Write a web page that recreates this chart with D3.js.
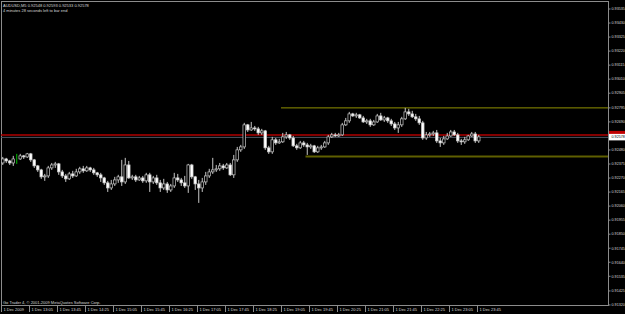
<!DOCTYPE html>
<html>
<head>
<meta charset="utf-8">
<script src="https://cdn.jsdelivr.net/npm/d3@7"></script>
<style>
    body { margin: 0; background: #000; }
    svg { display: block; }
    text { font-family: "Liberation Sans", Arial, sans-serif; }
</style>
</head>
<body>
<svg id="canvas" width="625" height="314"></svg>
<script>
// AUDUSD M5 candles, prices in points (1 point = 0.00001)
let open = [
    92383,92413,92398,92383,92413,92413,92436,92428,92451,92406,
    92361,92331,92279,92286,92346,92368,92376,92316,92286,92264,
    92301,92286,92316,92339,92324,92346,92331,92309,92294,92271,
    92234,92196,92226,92256,92279,92241,92368,92271,92279,92256,
    92271,92249,92294,92241,92271,92234,92196,92226,92181,92211,
    92271,92256,92234,92211,92368,92279,92226,92196,92241,92286,
    92316,92331,92339,92361,92346,92368,92294,92406,92481,92503,
    92668,92630,92645,92638,92608,92623,92496,92466,92556,92533,
    92541,92578,92593,92570,92511,92496,92533,92518,92503,92511,
    92466,92496,92503,92533,92578,92593,92585,92593,92668,92698,
    92750,92735,92743,92720,92690,92698,92668,92690,92735,92705,
    92720,92698,92675,92645,92668,92713,92765,92750,92728,92713,
    92683,92570,92593,92600,92608,92548,92533,92563,92585,92615,
    92593,92548,92541,92556,92585,92600,92548
]
let high = [
    92428,92421,92406,92436,92451,92451,92443,92458,92458,92413,
    92368,92339,92301,92361,92383,92391,92383,92331,92301,92316,
    92324,92339,92354,92361,92361,92354,92346,92316,92309,92279,
    92249,92256,92279,92294,92406,92421,92398,92294,92294,92286,
    92286,92309,92309,92286,92294,92256,92264,92241,92226,92309,
    92301,92271,92286,92376,92376,92286,92256,92271,92316,92339,
    92421,92368,92383,92376,92383,92383,92443,92503,92518,92683,
    92675,92690,92660,92653,92638,92630,92511,92578,92570,92563,
    92608,92615,92600,92585,92526,92548,92548,92533,92526,92518,
    92511,92518,92548,92593,92608,92608,92608,92683,92720,92765,
    92758,92758,92750,92735,92713,92713,92705,92750,92758,92735,
    92728,92713,92690,92690,92728,92795,92788,92773,92750,92735,
    92698,92615,92615,92623,92630,92570,92585,92608,92630,92630,
    92608,92563,92578,92593,92615,92615,92593
]
let low = [
    92368,92383,92368,92361,92376,92406,92413,92421,92391,92346,
    92316,92264,92249,92271,92331,92346,92294,92271,92241,92256,
    92271,92279,92301,92309,92316,92316,92294,92279,92241,92219,
    92166,92181,92211,92234,92211,92226,92264,92256,92241,92249,
    92234,92234,92166,92226,92219,92166,92181,92159,92166,92196,
    92241,92211,92196,92159,92264,92181,92084,92166,92219,92271,
    92301,92316,92324,92331,92339,92286,92271,92391,92466,92488,
    92615,92623,92623,92593,92593,92481,92451,92451,92518,92526,
    92533,92563,92556,92503,92481,92488,92503,92443,92488,92458,
    92458,92481,92496,92518,92570,92578,92578,92585,92660,92683,
    92728,92720,92713,92683,92675,92653,92660,92683,92698,92690,
    92683,92660,92630,92608,92653,92705,92735,92720,92698,92668,
    92556,92556,92578,92585,92533,92503,92518,92556,92578,92585,
    92533,92518,92526,92548,92578,92533,92533
]
let close = [
    92413,92398,92383,92413,92413,92436,92428,92451,92406,92361,
    92331,92279,92286,92346,92368,92376,92316,92286,92264,92301,
    92286,92316,92339,92324,92346,92331,92309,92294,92271,92234,
    92196,92226,92256,92279,92241,92368,92271,92279,92256,92271,
    92249,92294,92241,92271,92234,92196,92226,92181,92211,92271,
    92256,92234,92211,92368,92279,92226,92196,92241,92286,92316,
    92331,92339,92361,92346,92368,92294,92406,92481,92503,92668,
    92630,92645,92638,92608,92623,92496,92466,92556,92533,92541,
    92578,92593,92570,92511,92496,92533,92518,92503,92511,92466,
    92496,92503,92533,92578,92593,92585,92593,92668,92698,92750,
    92735,92743,92720,92690,92698,92668,92690,92735,92705,92720,
    92698,92675,92645,92668,92713,92765,92750,92728,92713,92683,
    92570,92593,92600,92608,92548,92533,92563,92585,92615,92593,
    92548,92541,92556,92585,92600,92548,92578
]

// price scale labels on the right
let priceTicks = [93535,93430,93325,93220,93115,93010,92905,92795,92690,92585,92480,
    92375,92270,92165,92060,91955,91850,91745,91640,91535,91425,91320]

// time labels, one every 8 bars
let timeLabels = ["1 Dec 2009","1 Dec 13:05","1 Dec 13:45","1 Dec 14:25","1 Dec 15:05",
    "1 Dec 15:45","1 Dec 16:25","1 Dec 17:05","1 Dec 17:45","1 Dec 18:25","1 Dec 19:05",
    "1 Dec 19:45","1 Dec 20:25","1 Dec 21:05","1 Dec 21:45","1 Dec 22:25","1 Dec 23:05","1 Dec 23:45"]
let labelEvery = 8

// horizontal objects: [price, first bar]
let hLines = [[92795, 80], [92432, 87]]
let redLevel = 92593

let symbolText = "AUDUSD,M5  0.92548 0.92593 0.92533 0.92578"
let timerText = "4 minutes 28 seconds left to bar end"
let copyText = "Go Trader 4, \u00a9 2001-2009 MetaQuotes Software Corp."

let canvas = d3.select("#canvas")
let plotL = 1, plotR = 608, plotT = 1, plotB = 305
let step = 3.5
let n = close.length

canvas.append("rect").attr("width", 625).attr("height", 314).attr("fill", "#000")

let x = d3.scaleBand()
    .domain(d3.range(n))
    .range([plotL, plotL + step * n])

let y = d3.scaleLinear()
    .domain([91320, 93535])
    .range([plotB, 9])

let fmt = (v) => (v / 1e5).toFixed(5)

//frame
canvas.append("rect")
    .attr("x", plotL + 0.5).attr("y", plotT + 0.5)
    .attr("width", plotR - plotL).attr("height", plotB - plotT)
    .attr("fill", "none").attr("stroke", "#8c8c8c")

//horizontal lines
canvas.append("line")
    .attr("x1", plotL).attr("x2", plotR)
    .attr("y1", y(redLevel)).attr("y2", y(redLevel))
    .attr("stroke", "#b00000").attr("stroke-width", 1.5)
canvas.append("line")
    .attr("x1", plotL).attr("x2", plotR)
    .attr("y1", y(close[n - 1]) + 0.5).attr("y2", y(close[n - 1]) + 0.5)
    .attr("stroke", "#4e5664")
canvas.selectAll(".level")
    .data(hLines)
    .join("line")
    .attr("x1", (d) => x(d[1])).attr("x2", plotR)
    .attr("y1", (d) => y(d[0])).attr("y2", (d) => y(d[0]))
    .attr("stroke", (d, i) => i == 0 ? "#8f8f00" : "#5f5f00")
    .attr("stroke-width", (d, i) => i == 0 ? 1 : 2)

//candles
let bars = canvas.selectAll(".bar")
    .data(d3.range(n))
    .join("g")
    .attr("transform", (i) => "translate(" + (x(i) + step / 2) + ",0)")

bars.append("line")
    .attr("y1", (i) => y(high[i])).attr("y2", (i) => y(low[i]))
    .attr("stroke", (i) => open[i] == close[i] ? "#00c000" : "#c8c8c8")

bars.filter((i) => open[i] != close[i])
    .append("rect")
    .attr("x", -1.3).attr("width", 2.6)
    .attr("y", (i) => y(Math.max(open[i], close[i])))
    .attr("height", (i) => Math.max(1, Math.abs(y(open[i]) - y(close[i]))))
    .attr("fill", (i) => close[i] < open[i] ? "#ffffff" : "#000")
    .attr("stroke", "#c8c8c8").attr("stroke-width", 0.7)

//price axis
let pt = canvas.selectAll(".ptick")
    .data(priceTicks)
    .join("g")
    .attr("transform", (d) => "translate(" + plotR + "," + y(d) + ")")
pt.append("line").attr("x1", 0).attr("x2", 2.5).attr("stroke", "#8c8c8c")
pt.append("text")
    .attr("x", 3.5).attr("dy", "0.35em")
    .attr("fill", "#d8d8d8").style("font-size", "3.7px")
    .text(fmt)

//red and bid price labels
canvas.append("rect")
    .attr("x", plotR + 1).attr("y", y(redLevel) - 4)
    .attr("width", 16).attr("height", 7).attr("fill", "#c00000")
canvas.append("rect")
    .attr("x", plotR + 1).attr("y", y(close[n - 1]) - 3)
    .attr("width", 16).attr("height", 6.5).attr("fill", "#fff")
canvas.append("text")
    .attr("x", plotR + 3.5).attr("y", y(close[n - 1])).attr("dy", "0.35em")
    .attr("fill", "#000").style("font-size", "3.7px")
    .text(fmt(close[n - 1]))

//time axis
let tt = canvas.selectAll(".ttick")
    .data(timeLabels)
    .join("g")
    .attr("transform", (d, k) => "translate(" + Math.round(x(k * labelEvery)) + "," + plotB + ")")
tt.append("line").attr("x1", 0.5).attr("x2", 0.5).attr("y1", 0).attr("y2", 7).attr("stroke", "#8c8c8c")
tt.append("text")
    .attr("x", 2.5).attr("y", 6.2)
    .attr("fill", "#d8d8d8").style("font-size", "4px")
    .text((d) => d)

//info texts
canvas.append("text").attr("x", 3).attr("y", 7)
    .attr("fill", "#d8d8d8").style("font-size", "4px").text(symbolText)
canvas.append("text").attr("x", 3).attr("y", 11.5)
    .attr("fill", "#d8d8d8").style("font-size", "4px").text(timerText)
canvas.append("text").attr("x", 3).attr("y", 303.5)
    .attr("fill", "#d8d8d8").style("font-size", "4px").text(copyText)
</script>
</body>
</html>
